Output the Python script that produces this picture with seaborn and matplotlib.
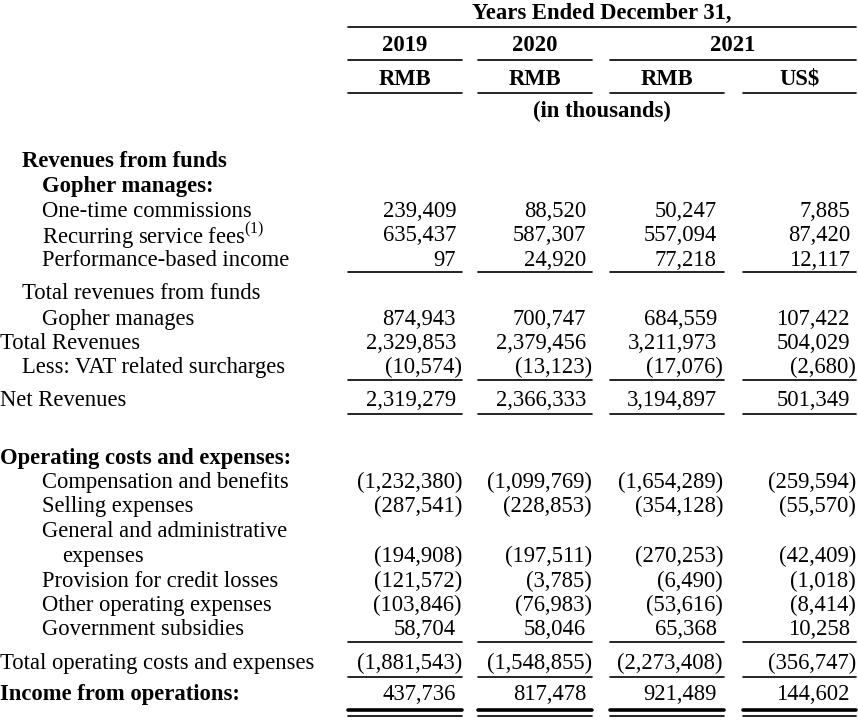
import numpy as np
import pandas as pd
import matplotlib
matplotlib.use("Agg")
import matplotlib.pyplot as plt
import seaborn as sns

# row labels of the income statement
labels = [
    "Revenues from funds",
    "Gopher manages:",
    "One-time commissions",
    "Recurring service fees$^{\\mathrm{(1)}}$",
    "Performance-based income",
    "Total revenues from funds",
    "Gopher manages",
    "Total Revenues",
    "Less: VAT related surcharges",
    "Net Revenues",
    "Operating costs and expenses:",
    "Compensation and benefits",
    "Selling expenses",
    "General and administrative",
    "expenses",
    "Provision for credit losses",
    "Other operating expenses",
    "Government subsidies",
    "Total operating costs and expenses",
    "Income from operations:",
]

# values in thousands (None = no figure on that row)
rmb_2019 = [None, None, 239409, 635437, 97, None, 874943, 2329853, -10574, 2319279,
            None, -1232380, -287541, None, -194908, -121572, -103846, 58704, -1881543, 437736]
rmb_2020 = [None, None, 88520, 587307, 24920, None, 700747, 2379456, -13123, 2366333,
            None, -1099769, -228853, None, -197511, -3785, -76983, 58046, -1548855, 817478]
rmb_2021 = [None, None, 50247, 557094, 77218, None, 684559, 3211973, -17076, 3194897,
            None, -1654289, -354128, None, -270253, -6490, -53616, 65368, -2273408, 921489]
usd_2021 = [None, None, 7885, 87420, 12117, None, 107422, 504029, -2680, 501349,
            None, -259594, -55570, None, -42409, -1018, -8414, 10258, -356747, 144602]

years = ["2019", "2020", "2021"]
currencies = ["RMB", "RMB", "RMB", "US$"]

df = pd.DataFrame({"label": labels, "c0": rmb_2019, "c1": rmb_2020,
                   "c2": rmb_2021, "c3": usd_2021})

# layout (pixel coordinates)
row_y = [160, 185, 210, 234, 259, 292, 318, 342, 366, 399,
         457, 481, 505, 530, 555, 580, 604, 628, 662, 693]
indent = [22, 42, 42, 42, 42, 22, 42, 0, 22, 0,
          0, 42, 42, 42, 62, 42, 42, 42, 0, 0]
bold_rows = {0, 1, 10, 19}
col_left = [348, 478, 610, 743]
col_right = [456, 586, 717, 850]
line_right = [462, 592, 724, 856]
rule_y = [272, 380, 414, 642, 677]

sns.set_theme(style="white")
plt.rcParams["font.family"] = ["Liberation Serif", "DejaVu Serif"]
plt.rcParams["mathtext.fontset"] = "custom"
plt.rcParams["mathtext.rm"] = "Liberation Serif"
plt.rcParams["text.color"] = "black"

fig = plt.figure(figsize=(8.58, 7.2), dpi=100)
ax = fig.add_axes([0, 0, 1, 1])
ax.set_xlim(0, 858)
ax.set_ylim(720, 0)
ax.axis("off")

fs = 16.3
lc = "black"
lw = 1.2
dy = 1.5  # text centre offset

# header
ax.text((col_left[0] + line_right[3]) / 2, 12 + dy, "Years Ended December 31,", ha="center",
        va="center", fontsize=fs, fontweight="bold")
ax.plot([col_left[0], line_right[3]], [27, 27], color=lc, lw=lw)
ax.text((col_left[0] + line_right[0]) / 2, 44 + dy, years[0], ha="center", va="center",
        fontsize=fs, fontweight="bold")
ax.text((col_left[1] + line_right[1]) / 2, 44 + dy, years[1], ha="center", va="center",
        fontsize=fs, fontweight="bold")
ax.text((col_left[2] + line_right[3]) / 2, 44 + dy, years[2], ha="center", va="center",
        fontsize=fs, fontweight="bold")
ax.plot([col_left[0], line_right[0]], [60, 60], color=lc, lw=lw)
ax.plot([col_left[1], line_right[1]], [60, 60], color=lc, lw=lw)
ax.plot([col_left[2], line_right[3]], [60, 60], color=lc, lw=lw)
for j, cur in enumerate(currencies):
    ax.text((col_left[j] + line_right[j]) / 2, 78 + dy, cur, ha="center", va="center",
            fontsize=fs, fontweight="bold")
    ax.plot([col_left[j], line_right[j]], [93, 93], color=lc, lw=lw)
ax.text((col_left[0] + line_right[3]) / 2, 110 + dy, "(in thousands)", ha="center",
        va="center", fontsize=fs, fontweight="bold")


def fmt(v):
    if v < 0:
        return "({:,})".format(-v)
    return "{:,}".format(v)


for i, row in df.iterrows():
    w = "bold" if i in bold_rows else "normal"
    ax.text(indent[i], row_y[i] + dy, row["label"], ha="left", va="center",
            fontsize=fs, fontweight=w)
    for j in range(4):
        v = row["c%d" % j]
        if v is None or pd.isna(v):
            continue
        v = int(v)
        x = col_right[j] + (6 if v < 0 else 0)
        ax.text(x, row_y[i] + dy, fmt(v), ha="right", va="center", fontsize=fs)

# rules under rows
for y in rule_y:
    for j in range(4):
        ax.plot([col_left[j], line_right[j]], [y, y], color=lc, lw=lw)
for j in range(4):
    ax.plot([col_left[j], line_right[j]], [710, 710], color=lc, lw=2.6)
    ax.plot([col_left[j], line_right[j]], [716, 716], color=lc, lw=1.2)

fig.savefig("out.png", dpi=100)
